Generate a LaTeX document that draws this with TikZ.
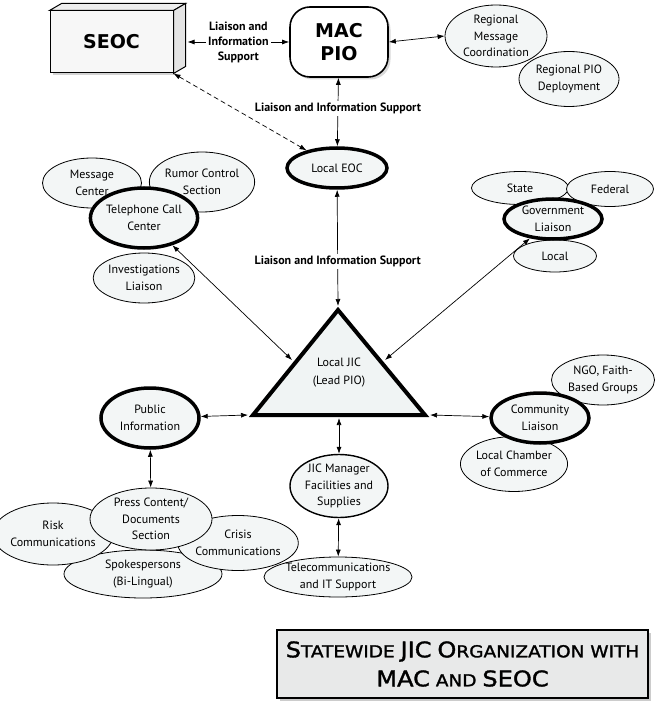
\documentclass[tikz,border=0pt]{standalone}
\usepackage{fontspec}
\setmainfont{PT Sans}
\newfontfamily\headfont{DejaVu Sans}
\newfontfamily\titlefont[FakeStretch=1.12, FakeBold=1.6]{DejaVu Sans}
\usepackage{xcolor}
\usepackage{tikz}
\usetikzlibrary{shapes.geometric, arrows, arrows.meta, shadows}

\definecolor{cellfill}{RGB}{243,246,246}
\definecolor{jicfill}{RGB}{240,244,244}
\definecolor{titlefill}{RGB}{232,233,233}
\definecolor{boxfront}{RGB}{247,247,247}
\definecolor{boxtop}{RGB}{238,238,238}
\definecolor{boxside}{RGB}{228,228,228}

% fake small caps for the title
\newcommand{\tcap}[2]{{\fontsize{21.5}{29}\selectfont #1}{\fontsize{16.5}{29}\selectfont #2}}

\begin{document}
\begin{tikzpicture}[x=1pt, y=-1pt]
\tikzstyle{hub} = [ellipse, draw, line width=3.5pt, fill=cellfill, inner sep=0pt, align=center, font=\fontsize{12}{16.5}\selectfont]
\tikzstyle{sub} = [ellipse, draw, line width=0.8pt, fill=cellfill, inner sep=0pt, align=center, font=\fontsize{12}{16.5}\selectfont]
\tikzstyle{link} = [{Latex[length=7pt,width=5pt]}-{Latex[length=7pt,width=5pt]}, line width=0.7pt]
\tikzstyle{note} = [fill=white, inner sep=2pt, align=center, font=\bfseries\fontsize{12}{15}\selectfont]
\tikzstyle{center} = [font=\headfont\bfseries\fontsize{19}{23}\selectfont, align=center]

\useasboundingbox (0,0) rectangle (659,703);

% top row
\node (seoc) at (111.5,42) [center, draw, line width=1pt, fill=boxfront, minimum width=123pt, minimum height=62pt, drop shadow={opacity=0.35}] {SEOC};
\draw[line width=1pt, fill=boxtop] (seoc.north west) -- ++(12,-7) -- ([shift={(12,-7)}]seoc.north east) -- (seoc.north east) -- cycle;
\draw[line width=1pt, fill=boxside] (seoc.north east) -- ++(12,-7) -- ([shift={(12,-7)}]seoc.south east) -- (seoc.south east) -- cycle;

\node (mac_pio) at (339,42) [center, draw, line width=1.6pt, fill=white, rounded corners=20pt, minimum width=98pt, minimum height=70pt, drop shadow={opacity=0.3}] {MAC\\PIO};

\node (reg_msg) at (496,36) [sub, minimum width=102pt, minimum height=62pt] {Regional\\Message\\Coordination};
\node (reg_pio) at (569,79) [sub, minimum width=100pt, minimum height=55pt] {Regional PIO\\Deployment};

\node (local_eoc) at (337,168) [hub, minimum width=100pt, minimum height=40pt] {Local EOC};

% telephone call center group
\node (msg_center) at (92,183) [sub, minimum width=99pt, minimum height=50pt] {Message\\Center};
\node (rumor) at (202,182) [sub, minimum width=97pt, minimum height=60pt] {Rumor Control\\Section};
\node (investig) at (144,278) [sub, minimum width=98pt, minimum height=50pt] {Investigations\\Liaison};
\node (phone) at (144,218) [hub, minimum width=96pt, minimum height=60pt] {Telephone Call\\Center};

% government liaison group
\node (state) at (520,188) [sub, minimum width=97pt, minimum height=33pt] {State};
\node (federal) at (610,189) [sub, minimum width=87pt, minimum height=35pt] {Federal};
\node (local_gov) at (555,256) [sub, minimum width=83pt, minimum height=32pt] {Local};
\node (gov) at (553,219) [hub, minimum width=98pt, minimum height=40pt] {Government\\Liaison};

% local JIC
\coordinate (jic_apex) at (338,310);
\coordinate (jic_bl) at (253,415);
\coordinate (jic_br) at (425,415);
\draw[line width=4pt, fill=jicfill, line join=miter] (jic_apex) -- (jic_bl) -- (jic_br) -- cycle;
\node (jic) at (339,373) [align=center, font=\fontsize{12}{18}\selectfont] {Local JIC\\(Lead PIO)};
\coordinate (jic_in_top) at (338,306);
\coordinate (jic_in_left) at (292,360);
\coordinate (jic_in_right) at (385,360);
\coordinate (jic_in_bl) at (248,415);
\coordinate (jic_in_br) at (430,415);
\coordinate (jic_in_base) at (339,418);

% public information group
\node (public) at (150,418) [hub, minimum width=98pt, minimum height=60pt] {Public\\Information};
\node (spokes) at (143,574) [sub, minimum width=158pt, minimum height=48pt] {Spokespersons\\(Bi-Lingual)};
\node (risk) at (53,534) [sub, minimum width=99pt, minimum height=62pt] {Risk\\Communications};
\node (crisis) at (238,543) [sub, minimum width=111pt, minimum height=55pt] {Crisis\\Communications};
\node (press) at (151,519) [sub, minimum width=122pt, minimum height=62pt] {Press Content/\\Documents\\Section};

% JIC manager
\node (jic_mgr) at (339,486) [sub, line width=1.4pt, minimum width=98pt, minimum height=63pt] {JIC Manager\\Facilities and\\Supplies};
\node (telecom) at (338,577) [sub, minimum width=126pt, minimum height=40pt] {Telecommunications\\and IT Support};

% community liaison group
\node (ngo) at (603,380) [sub, minimum width=103pt, minimum height=50pt] {NGO, Faith-\\Based Groups};
\node (chamber) at (514,464) [sub, minimum width=98pt, minimum height=55pt] {Local Chamber\\of Commerce};
\node (community) at (540,418) [hub, minimum width=98pt, minimum height=50pt] {Community\\Liaison};

% connectors
\draw[link] ([xshift=14pt]seoc.east) -- (mac_pio.west) node[note, midway] {Liaison and\\Information\\Support};
\draw[link] (mac_pio.east) -- (reg_msg.west);
\draw[link] (mac_pio) -- (local_eoc) node[note, pos=0.45] {Liaison and Information Support};
\draw[link, dash pattern=on 5pt off 3pt] (seoc.south east) -- (local_eoc);
\draw[link] (local_eoc) -- (jic_in_top) node[note, pos=0.62] {Liaison and Information Support};
\draw[link] (phone) -- (jic_in_left);
\draw[link] (gov) -- (jic_in_right);
\draw[link] (public) -- (jic_in_bl);
\draw[link] (community) -- (jic_in_br);
\draw[link] (jic_in_base) -- (jic_mgr);
\draw[link] (jic_mgr) -- (telecom);
\draw[link] (public) -- (press);

% title
\node (title) at (462.5,664) [draw, line width=1.2pt, fill=titlefill, minimum width=371pt, minimum height=68pt, inner sep=2pt, align=center, font=\titlefont\fontsize{16.5}{29}\selectfont, drop shadow={opacity=0.4}] {\tcap{S}{TATEWIDE} \tcap{JIC}{} \tcap{O}{RGANIZATION} \tcap{}{WITH}\\\tcap{MAC}{} \tcap{}{AND} \tcap{SEOC}{}};

\end{tikzpicture}
\end{document}
